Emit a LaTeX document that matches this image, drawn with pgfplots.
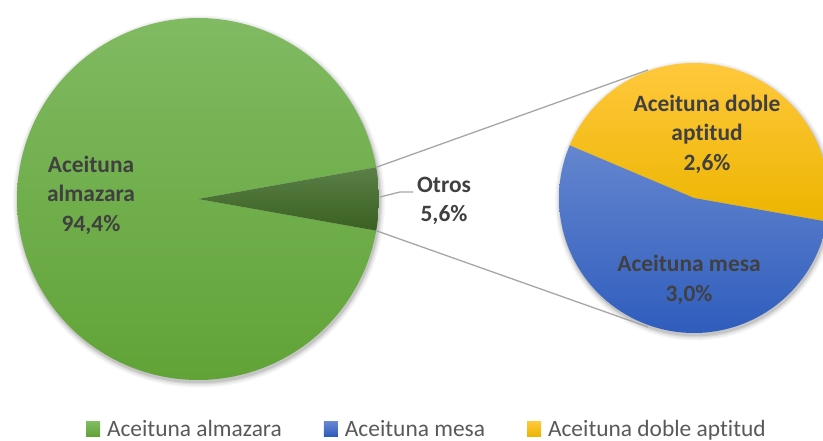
\documentclass[border=0pt]{standalone}
\usepackage{pgfplots}
\pgfplotsset{compat=1.18}
\usepackage{fontspec}
\setmainfont{Carlito}[Ligatures={NoCommon}]
\definecolor{lbl}{HTML}{404040}
\definecolor{legtxt}{HTML}{595959}
\definecolor{gTop}{HTML}{80BA62}
\definecolor{gBot}{HTML}{61A337}
\definecolor{oTop}{HTML}{5A7F48}
\definecolor{oBot}{HTML}{3A6120}
\definecolor{yTop}{HTML}{FFC83C}
\definecolor{yBot}{HTML}{ECB500}
\definecolor{bTop}{HTML}{6586CF}
\definecolor{bBot}{HTML}{2F5DBD}
\definecolor{conn}{HTML}{A6A6A6}
% data (percent)
\def\vAlm{94.4}
\def\vMesa{3.0}
\def\vDoble{2.6}
\pgfmathsetmacro{\vOtros}{100-\vAlm}
\pgfmathsetmacro{\hO}{\vOtros*3.6/2}
\pgfmathsetmacro{\aMainA}{\hO}
\pgfmathsetmacro{\aMainB}{360-\hO}
\pgfmathsetmacro{\aSecA}{-\hO}
\pgfmathsetmacro{\aSplit}{-\hO+\vDoble/(\vMesa+\vDoble)*360}
\pgfmathsetmacro{\aSecB}{\aSecA+360}
% geometry (pixel units)
\def\cxA{198}\def\cyA{242}\def\rA{181}
\def\cxB{694}\def\cyB{243}\def\rB{135}
\newcommand\labelfont{\fontsize{23.5}{29.5}\selectfont\bfseries}
\pgfplotsset{shadowring/.style={forget plot, draw=none, fill=black, fill opacity=#1,
    domain=0:360, samples=120, variable=\t}}
\begin{document}
\begin{tikzpicture}
\begin{axis}[
  width=823bp, height=441bp, scale only axis,
  xmin=0, xmax=823, ymin=0, ymax=441,
  axis lines=none, clip=true,
  legend image code/.code={\path[#1] (0bp,-7bp) rectangle (14bp,7bp);},
  legend columns=3,
  legend style={draw=none, fill=none, at={(axis cs:86,12)}, anchor=west,
    inner sep=0pt, outer sep=0pt,
    nodes={inner sep=0pt, text=legtxt},
    font=\fontsize{23.5}{28}\selectfont,
    /tikz/every odd column/.append style={column sep=7bp},
    /tikz/every even column/.append style={column sep=42bp}},
]
% soft shadows
\addplot[shadowring=0.04] ({\cxA+1+(\rA+5)*cos(\t)},{\cyA-2.5+(\rA+5)*sin(\t)}) -- cycle;
\addplot[shadowring=0.05] ({\cxA+1+(\rA+3.5)*cos(\t)},{\cyA-2.5+(\rA+3.5)*sin(\t)}) -- cycle;
\addplot[shadowring=0.07] ({\cxA+1+(\rA+2)*cos(\t)},{\cyA-2.5+(\rA+2)*sin(\t)}) -- cycle;
\addplot[shadowring=0.09] ({\cxA+1+(\rA+0.8)*cos(\t)},{\cyA-2.5+(\rA+0.8)*sin(\t)}) -- cycle;
\addplot[shadowring=0.04] ({\cxB+1+(\rB+5)*cos(\t)},{\cyB-2.5+(\rB+5)*sin(\t)}) -- cycle;
\addplot[shadowring=0.05] ({\cxB+1+(\rB+3.5)*cos(\t)},{\cyB-2.5+(\rB+3.5)*sin(\t)}) -- cycle;
\addplot[shadowring=0.07] ({\cxB+1+(\rB+2)*cos(\t)},{\cyB-2.5+(\rB+2)*sin(\t)}) -- cycle;
\addplot[shadowring=0.09] ({\cxB+1+(\rB+0.8)*cos(\t)},{\cyB-2.5+(\rB+0.8)*sin(\t)}) -- cycle;
% main pie: Aceituna almazara
\addplot[forget plot, draw=none, top color=gTop, bottom color=gBot,
  domain=\aMainA:\aMainB, samples=200, variable=\t]
  ({\cxA+\rA*cos(\t)},{\cyA+\rA*sin(\t)}) -- (axis cs:\cxA,\cyA) -- cycle;
% Otros wedge
\addplot[forget plot, draw=none, top color=oTop, bottom color=oBot,
  domain=-\hO:\hO, samples=30, variable=\t]
  ({\cxA+\rA*cos(\t)},{\cyA+\rA*sin(\t)}) -- (axis cs:\cxA,\cyA) -- cycle;
% secondary pie: Aceituna doble aptitud
\addplot[forget plot, draw=none, top color=yTop, bottom color=yBot,
  domain=\aSecA:\aSplit, samples=150, variable=\t]
  ({\cxB+\rB*cos(\t)},{\cyB+\rB*sin(\t)}) -- (axis cs:\cxB,\cyB) -- cycle;
% secondary pie: Aceituna mesa
\addplot[forget plot, draw=none, top color=bTop, bottom color=bBot,
  domain=\aSplit:\aSecB-0.001, samples=150, variable=\t]
  ({\cxB+\rB*cos(\t)},{\cyB+\rB*sin(\t)}) -- (axis cs:\cxB,\cyB) -- cycle;
% connector lines
\addplot[forget plot, conn, line width=1.3bp] coordinates {(376.2,273.7) (648,371)};
\addplot[forget plot, conn, line width=1.3bp] coordinates {(376.2,210.3) (648,114)};
\addplot[forget plot, conn, line width=1.3bp] coordinates {(380,244) (400,249) (413,249)};
% legend
\addlegendimage{draw=none, top color=gTop, bottom color=gBot}
\addlegendentry{Aceituna almazara}
\addlegendimage{draw=none, top color=bTop, bottom color=bBot}
\addlegendentry{Aceituna mesa}
\addlegendimage{draw=none, top color=yTop, bottom color=yBot}
\addlegendentry{Aceituna doble aptitud}
% labels
\node[text=lbl, align=center, font=\labelfont] at (axis cs:91,246) {Aceituna\\almazara\\94,4\%};
\node[text=lbl, align=center, font=\labelfont] at (axis cs:444,240) {Otros\\5,6\%};
\node[text=lbl, align=center, font=\labelfont] at (axis cs:707,307) {Aceituna doble\\aptitud\\2,6\%};
\node[text=lbl, align=center, font=\labelfont] at (axis cs:689,161) {Aceituna mesa\\3,0\%};
\coordinate (bl) at (axis cs:0,0);
\coordinate (tr) at (axis cs:823,441);
\end{axis}
\pgfresetboundingbox
\useasboundingbox (bl) rectangle (tr);
\end{tikzpicture}
\end{document}
